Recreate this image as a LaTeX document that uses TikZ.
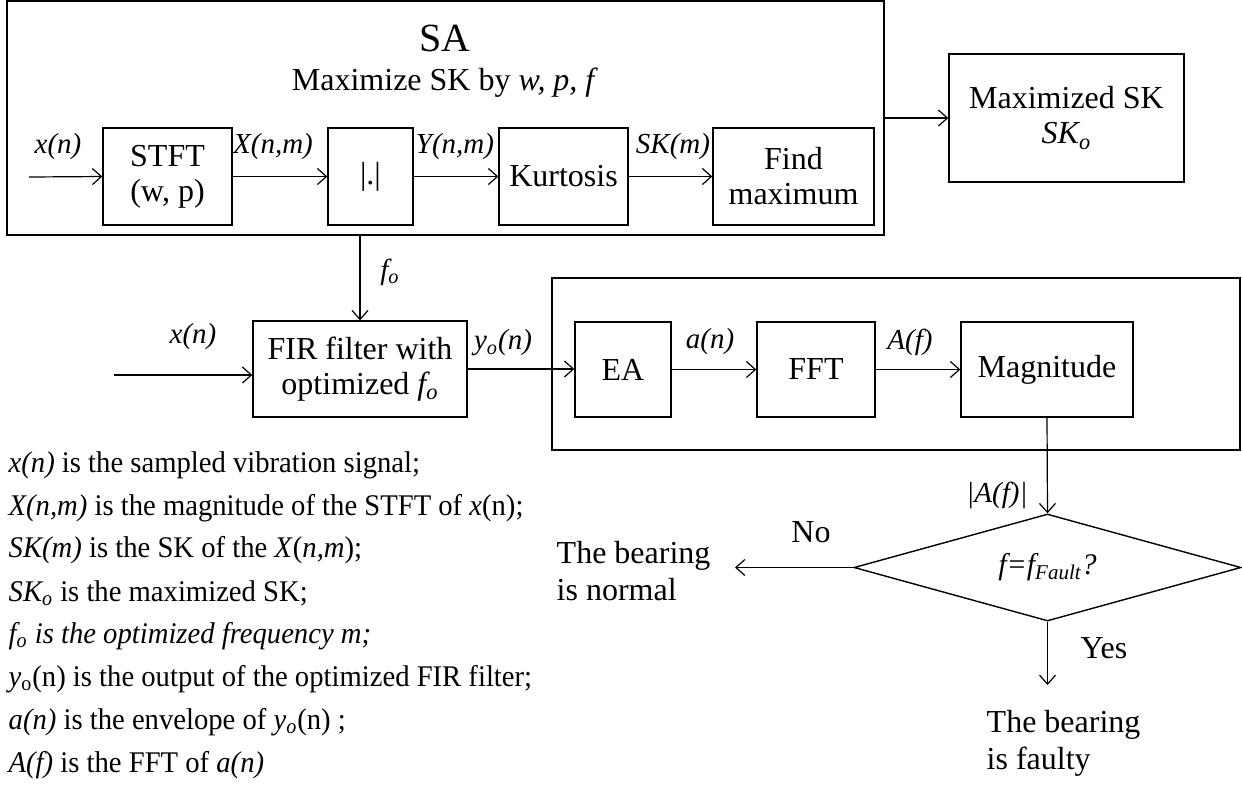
\documentclass[tikz,border=0pt]{standalone}
\usepackage{fontspec}
\usepackage{graphicx}
\setmainfont{Liberation Serif}
\usetikzlibrary{shapes.geometric,arrows.meta}
\newcommand{\legline}[1]{\scalebox{0.955}[1]{#1}}
\begin{document}
\begin{tikzpicture}[x=0.5pt,y=-0.5pt,
  line width=0.7pt,
  every node/.style={font=\fontsize{16}{17.5}\selectfont},
  box/.style={draw, inner sep=0pt, align=center},
  lbl/.style={font=\fontsize{14.5}{17}\selectfont\itshape, inner sep=0pt},
  arr/.style={-{Straight Barb[length=4.5pt,width=8pt]}, line width=0.6pt},
  leg/.style={anchor=west, inner sep=0pt, font=\fontsize{15}{18}\selectfont},
  txt/.style={anchor=west, inner sep=0pt, align=left, font=\fontsize{16}{18.5}\selectfont},
]
\useasboundingbox (0,0) rectangle (1242,784);

% ---- top SA block
\node[box, minimum width=438.5pt, minimum height=117pt] (sa) at (445.5,118) {};
\node[inner sep=0pt, font=\fontsize{20}{24}\selectfont] (satitle) at (445,38) {SA};
\node[inner sep=0pt] (sasub) at (445,83) {Maximize SK by \textit{w, p, f}};

\node[box, minimum width=64.5pt, minimum height=48.5pt] (stft) at (167.5,176.5) {STFT\\(w, p)};
\node[box, minimum width=42.5pt, minimum height=48.5pt] (abs) at (370.5,176.5) {|.|};
\node[box, minimum width=64.5pt, minimum height=48.5pt] (kurt) at (563.5,176.5) {Kurtosis};
\node[box, minimum width=80.5pt, minimum height=48.5pt] (fmax) at (793.5,176.5) {Find\\maximum};
\node[box, minimum width=117.5pt, minimum height=64pt] (maxsk) at (1066.5,118) {Maximized SK\\\textit{SK\textsubscript{o}}};

\coordinate (xin) at (29,177);
\draw[arr] (xin) -- (stft.west);
\draw[arr] (stft.east) -- (abs.west);
\draw[arr] (abs.east) -- (kurt.west);
\draw[arr] (kurt.east) -- (fmax.west);
\draw[arr] (sa.east) -- (maxsk.west);

\node[lbl] (l1) at (58,147) {x(n)};
\node[lbl] (l2) at (273,147) {X(n,m)};
\node[lbl] (l3) at (455,147) {Y(n,m)};
\node[lbl] (l4) at (673,147) {SK(m)};

% ---- middle row
\node[box, minimum width=107pt, minimum height=48pt] (fir) at (360,369) {FIR filter with\\optimized \textit{f\textsubscript{o}}};
\node[box, minimum width=344pt, minimum height=86pt] (outer) at (896,364) {};
\node[box, minimum width=48pt, minimum height=47.5pt] (ea) at (623,369.5) {EA};
\node[box, minimum width=59pt, minimum height=47.5pt] (fft) at (816,369.5) {FFT};
\node[box, minimum width=86pt, minimum height=47.5pt] (mag) at (1047,369.5) {Magnitude};

\draw[arr] (fir.north |- sa.south) -- (fir.north);
\node[lbl] (lfo) at (390,272) {f\textsubscript{o}};

\coordinate (xin2) at (114,375);
\draw[arr] (xin2) -- (xin2 -| fir.west);
\node[lbl] (lx2) at (193,337) {x(n)};

\draw[arr] (fir.east) -- (fir.east -| ea.west);
\node[lbl] (lyo) at (503,343) {y\textsubscript{o}(n)};
\draw[arr] (ea.east) -- (fft.west);
\node[lbl] (lan) at (710,342) {a(n)};
\draw[arr] (fft.east) -- (mag.west);
\node[lbl] (laf) at (910,342) {A(f)};

% ---- decision
\node[draw, diamond, aspect=3.6, inner sep=0pt, minimum width=193.5pt, minimum height=53.5pt,
      font=\fontsize{15}{17}\selectfont\itshape] (dia) at (1047.5,567.5) {f=f\textsubscript{Fault}?};
\draw[arr] (mag.south) -- (dia.north);
\node[lbl] (labs) at (997,495) {|A(f)|};

\coordinate (nout) at (735,567.5);
\draw[arr] (dia.west) -- (nout);
\node[inner sep=0pt] (lno) at (811,532) {No};
\node[txt] (normal) at (556,571.5) {The bearing\\is normal};

\coordinate (yout) at (1047.5,685);
\draw[arr] (dia.south) -- (yout);
\node[inner sep=0pt] (lyes) at (1104,648) {Yes};
\node[txt] (faulty) at (986,743.5) {The bearing\\is faulty};

% ---- legend
\node[leg] (g1) at (8,465) {\legline{\textit{x(n)} is the sampled vibration signal;}};
\node[leg] (g2) at (8,508) {\legline{\textit{X(n,m)} is the magnitude of the STFT of \textit{x}(n);}};
\node[leg] (g3) at (8,550) {\legline{\textit{SK(m)} is the SK of the \textit{X}(\textit{n,m});}};
\node[leg] (g4) at (8,593) {\legline{\textit{SK\textsubscript{o}} is the maximized SK;}};
\node[leg] (g5) at (8,636) {\legline{\textit{f\textsubscript{o} is the optimized frequency m;}}};
\node[leg] (g6) at (8,679) {\legline{\textit{y}\textsubscript{o}(n) is the output of the optimized FIR filter;}};
\node[leg] (g7) at (8,722) {\legline{\textit{a(n)} is the envelope of \textit{y\textsubscript{o}}(n) ;}};
\node[leg] (g8) at (8,765) {\legline{\textit{A(f)} is the FFT of \textit{a(n)}}};
\end{tikzpicture}
\end{document}
